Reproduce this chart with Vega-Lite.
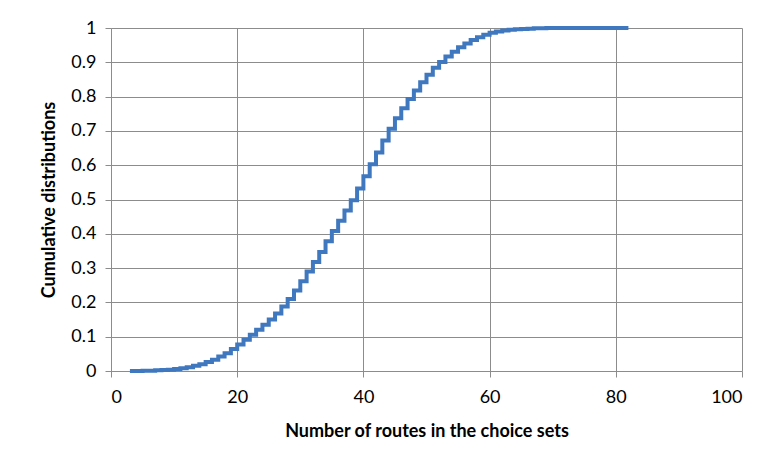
{
  "$schema": "https://vega.github.io/schema/vega-lite/v6.json",
  "autosize": {"type": "none"},
  "padding": {"left": 111, "top": 28, "right": 31, "bottom": 98},
  "width": 631,
  "height": 343,
  "background": "white",
  "config": {
    "view": {"stroke": null},
    "axis": {
      "labelFont": "Lato",
      "titleFont": "Lato",
      "labelFontSize": 18,
      "titleFontSize": 18,
      "labelColor": "#000",
      "titleColor": "#000",
      "gridColor": "#8c8c8c",
      "gridWidth": 1,
      "domainColor": "#8c8c8c",
      "tickColor": "#8c8c8c",
      "tickSize": 6
    }
  },
  "data": {"values": [
    {"n": 3, "p": 0.0}, {"n": 4, "p": 0.0}, {"n": 5, "p": 0.001}, {"n": 6, "p": 0.001},
    {"n": 7, "p": 0.002}, {"n": 8, "p": 0.003}, {"n": 9, "p": 0.004}, {"n": 10, "p": 0.006},
    {"n": 11, "p": 0.008}, {"n": 12, "p": 0.011}, {"n": 13, "p": 0.015}, {"n": 14, "p": 0.02},
    {"n": 15, "p": 0.026}, {"n": 16, "p": 0.033}, {"n": 17, "p": 0.042}, {"n": 18, "p": 0.052},
    {"n": 19, "p": 0.064}, {"n": 20, "p": 0.077}, {"n": 21, "p": 0.091}, {"n": 22, "p": 0.106},
    {"n": 23, "p": 0.12}, {"n": 24, "p": 0.135}, {"n": 25, "p": 0.15}, {"n": 26, "p": 0.168},
    {"n": 27, "p": 0.188}, {"n": 28, "p": 0.21}, {"n": 29, "p": 0.235}, {"n": 30, "p": 0.262},
    {"n": 31, "p": 0.29}, {"n": 32, "p": 0.318}, {"n": 33, "p": 0.347}, {"n": 34, "p": 0.378},
    {"n": 35, "p": 0.408}, {"n": 36, "p": 0.438}, {"n": 37, "p": 0.468}, {"n": 38, "p": 0.498},
    {"n": 39, "p": 0.532}, {"n": 40, "p": 0.568}, {"n": 41, "p": 0.603}, {"n": 42, "p": 0.637},
    {"n": 43, "p": 0.672}, {"n": 44, "p": 0.706}, {"n": 45, "p": 0.737}, {"n": 46, "p": 0.766},
    {"n": 47, "p": 0.793}, {"n": 48, "p": 0.818}, {"n": 49, "p": 0.842}, {"n": 50, "p": 0.864},
    {"n": 51, "p": 0.884}, {"n": 52, "p": 0.901}, {"n": 53, "p": 0.917}, {"n": 54, "p": 0.931},
    {"n": 55, "p": 0.944}, {"n": 56, "p": 0.955}, {"n": 57, "p": 0.965}, {"n": 58, "p": 0.973},
    {"n": 59, "p": 0.98}, {"n": 60, "p": 0.986}, {"n": 61, "p": 0.99}, {"n": 62, "p": 0.993},
    {"n": 63, "p": 0.995}, {"n": 64, "p": 0.996}, {"n": 65, "p": 0.997}, {"n": 66, "p": 0.998},
    {"n": 67, "p": 0.999}, {"n": 68, "p": 0.999}, {"n": 69, "p": 1.0}, {"n": 70, "p": 1.0},
    {"n": 72, "p": 1.0}, {"n": 75, "p": 1.0}, {"n": 78, "p": 1.0}, {"n": 80, "p": 1.0},
    {"n": 82, "p": 1.0}
  ]},
  "mark": {"type": "line", "interpolate": "step-after", "color": "#3f78bf", "strokeWidth": 4},
  "encoding": {
    "x": {
      "field": "n", "type": "quantitative",
      "scale": {"domain": [0, 100], "nice": false, "zero": false},
      "axis": {
        "values": [0, 20, 40, 60, 80, 100],
        "title": "Number of routes in the choice sets",
        "titleFontWeight": "bold",
        "titlePadding": 16,
        "labelPadding": 11,
        "domain": false,
        "grid": true
      }
    },
    "y": {
      "field": "p", "type": "quantitative",
      "scale": {"domain": [0, 1], "nice": false},
      "axis": {
        "values": [0, 0.1, 0.2, 0.3, 0.4, 0.5, 0.6, 0.7, 0.8, 0.9, 1],
        "format": "~g",
        "title": "Cumulative distributions",
        "titleFontWeight": "bold",
        "titlePadding": 12,
        "labelPadding": 9,
        "grid": true
      }
    }
  }
}
